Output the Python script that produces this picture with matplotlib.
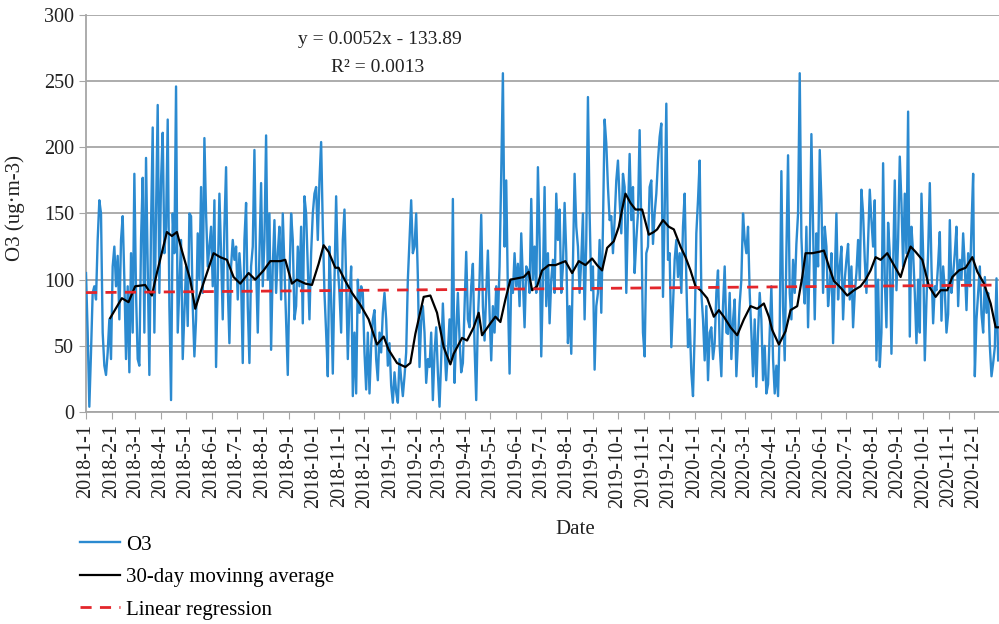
import pandas as pd
import numpy as np
import matplotlib
matplotlib.use("Agg")
import matplotlib.pyplot as plt

plt.rcParams["font.family"] = ["Liberation Serif", "DejaVu Serif"]

# daily O3, one value every 2 days from 2018-1-1
o3_2018 = [
    105, 60, 4, 45, 90, 95, 85, 130, 160, 150,
    60, 35, 28, 45, 70, 40, 110, 125, 95, 118,
    70, 130, 148, 100, 40, 95, 30, 120, 60, 180,
    90, 40, 35, 130, 177, 60, 192, 110, 28, 140,
    215, 60, 150, 232, 90, 175, 211, 120, 140, 221,
    80, 9, 150, 120, 246, 60, 95, 130, 40, 75,
    110, 65, 150, 148, 80, 42, 70, 135, 100, 170,
    90, 207, 150, 110, 125, 140, 95, 160, 34, 100,
    165, 120, 70, 140, 185, 95, 52, 110, 130, 115,
    125, 85, 120, 100, 37, 130, 158, 80, 37, 110,
    125, 198, 110, 60, 120, 173, 95, 130, 209, 100,
    150, 47, 110, 145, 90, 120, 140, 85, 150, 110,
    70, 28, 100, 150, 130, 70, 80, 125, 95, 140,
    67, 163, 150, 110, 70, 120, 150, 165, 170, 130,
    175, 204, 140, 90, 60, 27, 125, 85, 29, 100,
    163, 110, 90, 60, 130, 153, 100, 40, 85, 110,
    12, 60, 14, 100, 75, 95, 90, 45, 17, 60,
    14, 50, 70, 77, 40, 24, 60, 45, 75, 90,
    70, 35, 52,
]
o3_2019 = [
    20, 7, 30, 15, 7, 40, 25,
    12, 27, 45, 100, 130, 160, 120, 125, 150, 102,
    34, 69, 80, 60, 22, 40, 34, 60, 9, 45,
    64, 30, 4, 40, 82, 50, 24, 45, 70, 40,
    161, 22, 60, 90, 55, 30, 37, 80, 121, 70,
    64, 95, 112, 50, 9, 70, 100, 149, 80, 54,
    90, 122, 75, 39, 80, 60, 95, 70, 110, 180,
    256, 125, 175, 90, 29, 100, 90, 120, 95, 112,
    80, 135, 100, 64, 110, 107, 90, 161, 100, 125,
    90, 185, 130, 42, 100, 170, 80, 120, 67, 100,
    115, 90, 165, 130, 153, 90, 110, 158, 120, 52,
    80, 44, 110, 180, 140, 125, 90, 115, 150, 70,
    130, 238, 150, 92, 110, 32, 80, 90, 130, 75,
    140, 221, 203, 170, 145, 148, 120, 145, 175, 190,
    160, 135, 180, 170, 90, 150, 195, 145, 170, 105,
    130, 150, 213, 140, 60, 42, 120, 125, 170, 175,
    127, 150, 165, 190, 208, 218, 87, 150, 233, 115,
    120, 49, 80, 115, 130, 102, 120, 90, 140, 165,
    100, 49, 70, 30, 12,
]
o3_2020 = [
    60, 135, 160, 190, 90,
    70, 39, 80, 24, 60, 64, 40, 52, 90, 107,
    50, 27, 80, 110, 60, 59, 90, 40, 69, 85,
    27, 55, 82, 100, 150, 130, 120, 140, 90, 60,
    27, 70, 19, 60, 90, 70, 24, 50, 14, 21,
    60, 95, 40, 14, 35, 12, 64, 182, 80, 39,
    120, 194, 90, 70, 115, 90, 127, 150, 256, 132,
    100, 82, 140, 64, 120, 210, 140, 70, 135, 110,
    198, 160, 90, 140, 125, 80, 95, 120, 52, 100,
    150, 85, 110, 125, 70, 100, 115, 127, 85, 110,
    64, 90, 105, 130, 100, 168, 150, 115, 90, 130,
    168, 145, 125, 160, 39, 100, 34, 60, 188, 100,
    64, 143, 120, 44, 110, 175, 92, 130, 193, 158,
    110, 165, 120, 227, 57, 140, 120, 90, 52, 100,
    60, 165, 120, 39, 84, 120, 173, 110, 67, 95,
    92, 112, 136, 69, 110, 92, 60, 74, 145, 90,
    104, 120, 140, 80, 115, 100, 135, 110, 77, 120,
    95, 140, 180, 27, 70, 90, 110, 74, 60, 102,
    75, 90, 50, 27, 37, 49, 101, 39,
]

# 30-day moving average, read as (days since 2018-1-1, value)
ma_day = [29, 43, 51, 59, 71, 79, 85, 97, 103, 109, 115, 125, 131, 137, 145, 153,
          161, 169, 177, 185, 195, 203, 213, 221, 233, 239, 247, 253, 263, 271, 279,
          285, 291, 299, 303, 311, 319, 329, 339, 349, 357, 363, 373, 383, 389, 395,
          405, 413, 421, 429, 437, 441, 451, 457, 465, 471, 475, 485, 491, 497, 503,
          509, 517, 525, 531, 535, 541, 547, 555, 563, 575, 583, 591, 599, 607, 613,
          619, 625, 633, 639, 643, 647, 653, 659, 667, 675, 681, 685, 692, 699, 705,
          713, 719, 725, 731, 737, 745, 753, 759, 765, 773, 781, 789, 797, 805, 813,
          819, 823, 831, 839, 845, 853, 859, 863, 871, 879, 885, 891, 897, 905, 913,
          921, 929, 935, 941, 947, 953, 961, 969, 977, 983, 989, 995, 1003, 1011,
          1019, 1025, 1033, 1039, 1047, 1055, 1063, 1069, 1077, 1085, 1091, 1095]
ma_value = [71, 86, 83, 95, 96, 88, 105, 136, 133, 136, 122, 100, 78, 90, 105, 120,
            117, 115, 102, 97, 105, 100, 107, 114, 114, 115, 97, 100, 97, 96, 112,
            126, 121, 109, 109, 99, 90, 81, 70, 51, 57, 47, 37, 34, 37, 59,
            87, 88, 75, 49, 36, 44, 56, 54, 64, 75, 58, 67, 72, 68, 85,
            100, 101, 102, 106, 92, 95, 107, 111, 111, 114, 105, 114, 111, 116, 111,
            107, 124, 129, 140, 153, 165, 158, 153, 153, 134, 136, 138, 145, 140, 138,
            125, 117, 107, 95, 92, 86, 72, 77, 72, 64, 58, 70, 80, 78, 82,
            72, 62, 51, 61, 77, 80, 102, 120, 120, 121, 122, 110, 99, 94, 88,
            92, 95, 100, 107, 117, 115, 120, 111, 102, 115, 125, 121, 115, 95,
            87, 92, 92, 102, 107, 109, 117, 106, 97, 82, 64, 64]

# regression shown on the chart (x = Excel date serial)
slope = 0.0052
intercept = -133.89

o3 = o3_2018 + o3_2019 + o3_2020
dates = pd.date_range("2018-01-01", periods=len(o3), freq="2D")
ma_dates = pd.Timestamp("2018-01-01") + pd.to_timedelta(ma_day, unit="D")
all_days = pd.date_range("2018-01-01", "2020-12-31", freq="D")
serial = (all_days - pd.Timestamp("1899-12-30")).days.values
reg = slope * serial + intercept

fig = plt.figure(figsize=(9.99, 6.24), dpi=100)
ax = fig.add_axes([86 / 999, 1 - 412 / 624, 913 / 999, 397 / 624])

ax.plot(dates, o3, color="#2b8ad0", lw=1.7, label="O3", zorder=3)
ax.plot(ma_dates, ma_value, color="black", lw=1.6, label="30-day movinng average", zorder=4)
ax.plot(all_days, reg, color="#e3262b", lw=2, ls=(0, (4, 3)), label="Linear regression", zorder=5)

ax.set_xlim(pd.Timestamp("2018-01-01"), pd.Timestamp("2020-12-31"))
ax.set_ylim(0, 300)
ax.set_yticks(np.arange(0, 301, 50))
months = pd.date_range("2018-01-01", "2020-12-01", freq="MS")
ax.set_xticks(months)
ax.set_xticklabels([f"{d.year}-{d.month}-{d.day}" for d in months], rotation=90)

ax.grid(axis="y", color="#a6a6a6", lw=1.3)
ax.set_axisbelow(True)
for s in ["top", "right"]:
    ax.spines[s].set_visible(False)
for s in ["left", "bottom"]:
    ax.spines[s].set_color("#a6a6a6")
    ax.spines[s].set_linewidth(1.3)
ax.tick_params(axis="both", colors="#a6a6a6", length=5, labelsize=14.5, labelcolor="#222222")

fig.text(380 / 999, 1 - 40 / 624, "y = 0.0052x - 133.89", ha="center", va="center", fontsize=14, color="#222222")
fig.text(378 / 999, 1 - 68 / 624, "R² = 0.0013", ha="center", va="center", fontsize=14, color="#222222")
fig.text(575 / 999, 1 - 530 / 624, "Date", ha="center", va="center", fontsize=15, color="#222222")
fig.text(15 / 999, 1 - 208 / 624, "O3 (ug·m-3)", ha="center", va="center", rotation=90, fontsize=15, color="#222222")

fig.legend(loc="upper left", bbox_to_anchor=(80 / 999, 1 - 535 / 624), frameon=False,
           fontsize=15, handlelength=1.9, handletextpad=0.3, labelspacing=0.62,
           borderaxespad=0, borderpad=0)

fig.savefig("out.png", dpi=100)
